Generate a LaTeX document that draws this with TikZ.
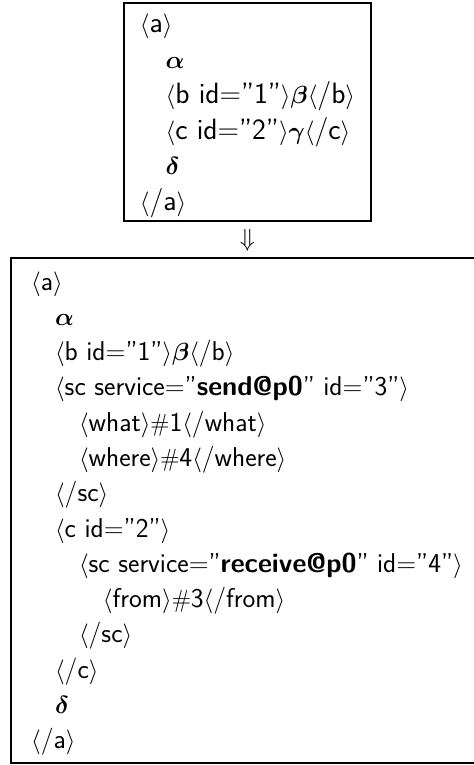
\documentclass[tikz,border=0pt]{standalone}
\usepackage{amsmath}
\usepackage{tikz}
\newcommand{\xtag}[1]{$\langle$#1$\rangle$}
\newcommand{\ind}{\hspace*{.88em}}
\newcommand{\bsym}[1]{$\boldsymbol{#1}$}

\begin{document}
\begin{tikzpicture}
    [ x=1bp, y=-1bp,
      font=\sffamily,
      xmlbox/.style={draw, line width=1.8bp, inner sep=0pt},
      xmltext/.style={align=left, inner sep=0pt},
    ]
    \useasboundingbox (0,0) rectangle (474,765);

    % original fragment
    \node[xmlbox, minimum width=247bp, minimum height=218bp] (src) at (247.5,112) {};
    \node[xmltext, font=\sffamily\fontsize{29.5}{35.6}\selectfont] (srcText) at (247.5,116)
        {\xtag{a}\\
         \ind\bsym{\alpha}\\
         \ind\xtag{b id=''1''}\bsym{\beta}\xtag{/b}\\
         \ind\xtag{c id=''2''}\bsym{\gamma}\xtag{/c}\\
         \ind\bsym{\delta}\\
         \xtag{/a}};

    \node[font=\fontsize{28}{30}\selectfont] (arr) at (247.5,240) {$\Downarrow$};

    % rewritten fragment
    \node[xmlbox, minimum width=473bp, minimum height=505bp] (dst) at (247.5,510.5) {};
    \node[xmltext, font=\sffamily\fontsize{27.3}{35.4}\selectfont] (dstText) at (247,513.5)
        {\xtag{a}\\
         \ind\bsym{\alpha}\\
         \ind\xtag{b id=''1''}\bsym{\beta}\xtag{/b}\\
         \ind\xtag{sc service=''\textbf{send@p0}'' id=''3''}\\
         \ind\ind\xtag{what}$\#$1\xtag{/what}\\
         \ind\ind\xtag{where}$\#$4\xtag{/where}\\
         \ind\xtag{/sc}\\
         \ind\xtag{c id=''2''}\\
         \ind\ind\xtag{sc service=''\textbf{receive@p0}'' id=''4''}\\
         \ind\ind\ind\xtag{from}$\#$3\xtag{/from}\\
         \ind\ind\xtag{/sc}\\
         \ind\xtag{/c}\\
         \ind\bsym{\delta}\\
         \xtag{/a}};
\end{tikzpicture}
\end{document}
